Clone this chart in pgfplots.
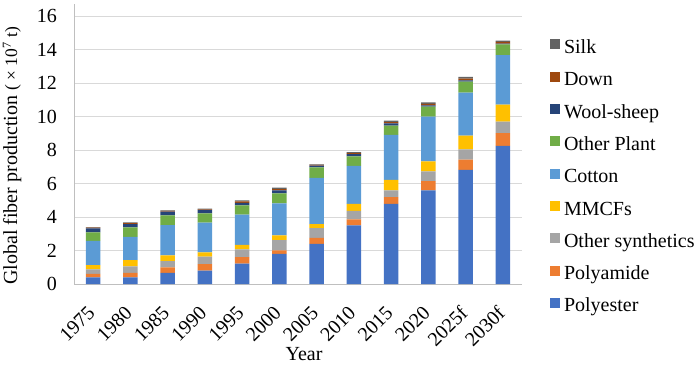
\documentclass[border=0pt]{standalone}
\usepackage{pgfplots}
\usepackage{pgfplotstable}
\pgfplotsset{compat=1.18}
\usepackage{fontspec}
\setmainfont{Liberation Serif}
\definecolor{cPe}{HTML}{4472C4}
\definecolor{cPa}{HTML}{ED7D31}
\definecolor{cOS}{HTML}{A5A5A5}
\definecolor{cMM}{HTML}{FFC000}
\definecolor{cCo}{HTML}{5B9BD5}
\definecolor{cOP}{HTML}{70AD47}
\definecolor{cWo}{HTML}{264478}
\definecolor{cDo}{HTML}{9E480E}
\definecolor{cSi}{HTML}{636363}
\definecolor{gridc}{HTML}{D9D9D9}
\definecolor{axisc}{HTML}{BFBFBF}
\pgfplotstableread{
x  Pe   Pa   OS   MM   Co   OP   Wo   Do   Si
0  0.40 0.20 0.28 0.25 1.45 0.50 0.24 0.04 0.04
1  0.40 0.26 0.39 0.38 1.38 0.57 0.20 0.05 0.05
2  0.66 0.33 0.38 0.34 1.81 0.58 0.22 0.04 0.04
3  0.80 0.39 0.44 0.26 1.77 0.56 0.20 0.04 0.04
4  1.21 0.40 0.46 0.26 1.81 0.56 0.14 0.10 0.06
5  1.80 0.21 0.61 0.28 1.92 0.59 0.18 0.08 0.08
6  2.39 0.36 0.59 0.24 2.75 0.64 0.10 0.04 0.04
7  3.50 0.36 0.50 0.42 2.28 0.56 0.14 0.06 0.06
8  4.78 0.40 0.41 0.62 2.69 0.55 0.14 0.08 0.08
9  5.59 0.56 0.57 0.60 2.67 0.60 0.08 0.09 0.09
10 6.81 0.61 0.62 0.82 2.56 0.66 0.08 0.10 0.10
11 8.24 0.77 0.68 1.02 2.96 0.64 0.04 0.10 0.08
}\datatable
\newcommand{\bigf}{\rmfamily\fontsize{20}{24}\selectfont}
\begin{document}
\begin{tikzpicture}[font=\bigf]
\useasboundingbox (0,0) rectangle (700pt,365pt);
\begin{axis}[
  at={(74.4pt,81pt)}, anchor=south west,
  scale only axis, width=447.2pt, height=279.7pt,
  ybar stacked, bar width=14.5pt,
  xmin=-0.5, xmax=11.5, ymin=0, ymax=16.7,
  ytick={0,2,4,6,8,10,12,14,16},
  xtick=data,
  xticklabels={1975,1980,1985,1990,1995,2000,2005,2010,2015,2020,2025f,2030f},
  ymajorgrids, grid style={color=gridc, line width=1pt},
  axis x line*=bottom, axis y line*=left,
  axis line style={color=axisc, line width=1pt},
  major tick length=0pt,
  /pgf/number format/assume math mode=true,
  tick label style={font=\bigf},
  yticklabel style={xshift=-14pt},
  xticklabel style={rotate=45, anchor=east, inner sep=0pt, xshift=-19.4pt, yshift=-17.1pt},
  xlabel={Year},
  xlabel style={at={(axis description cs:0.5134,0)}, anchor=base, yshift=-76pt, font=\bigf},
  ylabel={Global fiber production {\fontsize{17.5}{20}\selectfont( × 10\textsuperscript{7} t)}},
  ylabel style={at={(axis description cs:-0.1395,0.458)}, anchor=center, font=\bigf},
  reverse legend,
  legend cell align=left,
  legend image code/.code={\fill[#1] (0pt,-0.4pt) rectangle (10pt,9.6pt);},
  legend style={at={(1.062,0.875)}, anchor=north west, draw=none, fill=none,
    inner sep=0pt, row sep=13.2pt,
    nodes={inner sep=0pt, text height=14pt, text depth=5pt, font=\bigf},
    /tikz/every odd column/.append style={column sep=4.5pt},
    font=\bigf},
]
\addplot[fill=cPe, draw=none] table[x=x, y=Pe] {\datatable};
\addplot[fill=cPa, draw=none] table[x=x, y=Pa] {\datatable};
\addplot[fill=cOS, draw=none] table[x=x, y=OS] {\datatable};
\addplot[fill=cMM, draw=none] table[x=x, y=MM] {\datatable};
\addplot[fill=cCo, draw=none] table[x=x, y=Co] {\datatable};
\addplot[fill=cOP, draw=none] table[x=x, y=OP] {\datatable};
\addplot[fill=cWo, draw=none] table[x=x, y=Wo] {\datatable};
\addplot[fill=cDo, draw=none] table[x=x, y=Do] {\datatable};
\addplot[fill=cSi, draw=none] table[x=x, y=Si] {\datatable};
\legend{Polyester,Polyamide,Other synthetics,MMCFs,Cotton,Other Plant,Wool-sheep,Down,Silk}
\end{axis}
\end{tikzpicture}
\end{document}
